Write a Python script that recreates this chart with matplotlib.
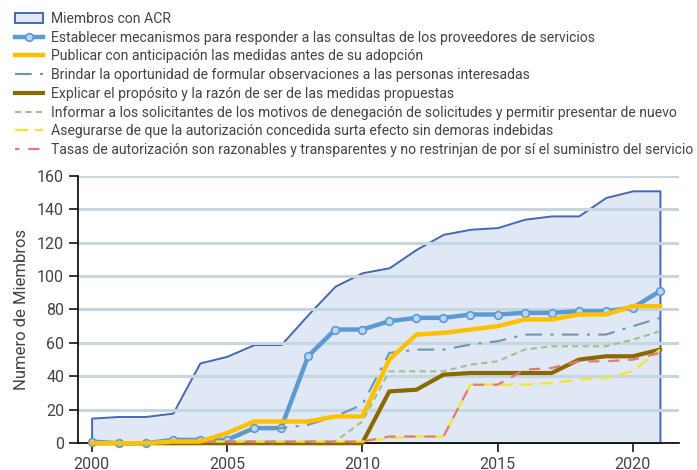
import matplotlib.pyplot as plt

years = list(range(2000, 2022))

miembros_acr = [15, 16, 16, 18, 48, 52, 59, 59, 77, 94, 102, 105, 116, 125, 128, 129, 134, 136, 136, 147, 151, 151]
establecer = [1, 0, 0, 2, 2, 2, 9, 9, 52, 68, 68, 73, 75, 75, 77, 77, 78, 78, 79, 79, 81, 91]
publicar = [0, 0, 0, 1, 1, 6, 13, 13, 13, 16, 16, 50, 65, 66, 68, 70, 74, 74, 77, 77, 82, 82]
brindar = [0, 0, 0, 1, 1, 1, 9, 9, 11, 16, 23, 54, 56, 56, 59, 61, 65, 65, 65, 65, 70, 75]
explicar = [0, 0, 0, 0, 0, 0, 0, 0, 0, 0, 0, 31, 32, 41, 42, 42, 42, 42, 50, 52, 52, 56]
informar = [0, 0, 0, 1, 1, 1, 1, 1, 1, 1, 13, 43, 43, 43, 47, 49, 56, 58, 58, 58, 62, 67]
asegurarse = [0, 0, 0, 1, 1, 1, 1, 1, 1, 1, 1, 3, 4, 4, 35, 35, 35, 36, 38, 39, 43, 56]
tasas = [0, 0, 0, 1, 1, 1, 1, 1, 1, 1, 1, 4, 4, 4, 35, 35, 44, 45, 49, 49, 50, 54]

labels = [
    "Miembros con ACR",
    "Establecer mecanismos para responder a las consultas de los proveedores de servicios",
    "Publicar con anticipación las medidas antes de su adopción",
    "Brindar la oportunidad de formular observaciones a las personas interesadas",
    "Explicar el propósito y la razón de ser de las medidas propuestas",
    "Informar a los solicitantes de los motivos de denegación de solicitudes y permitir presentar de nuevo",
    "Asegurarse de que la autorización concedida surta efecto sin demoras indebidas",
    "Tasas de autorización son razonables y transparentes y no restrinjan de por sí el suministro del servicio",
]

plt.rcParams['font.family'] = ['Roboto', 'DejaVu Sans']

fig = plt.figure(figsize=(6.97, 4.70), dpi=100)
ax = fig.add_axes([0.112, 0.057, 0.862, 0.569])

ax.fill_between(years, miembros_acr, color="#e1e8f5", edgecolor="#4668b5", linewidth=1.4,
                label=labels[0], zorder=1)
ax.plot(years, establecer, color="#5b9bd5", linewidth=3.2, marker="o", markersize=5.5,
        markerfacecolor="#bcd6ee", markeredgecolor="#5b9bd5", markeredgewidth=1.2,
        label=labels[1], zorder=3, clip_on=False)
ax.plot(years, publicar, color="#ffc000", linewidth=3.2, label=labels[2], zorder=4, clip_on=False)
ax.plot(years, brindar, color="#6e97aa", linewidth=1.5, linestyle=(0, (8, 4, 1.5, 4)),
        label=labels[3], zorder=3, clip_on=False)
ax.plot(years, explicar, color="#8a6a00", linewidth=3.0, label=labels[4], zorder=3, clip_on=False)
ax.plot(years, informar, color="#a3c08a", linewidth=1.5, linestyle=(0, (3, 2)),
        label=labels[5], zorder=3, clip_on=False)
ax.plot(years, asegurarse, color="#f5e52a", linewidth=1.6, linestyle=(0, (6, 3)),
        label=labels[6], zorder=3, clip_on=False)
ax.plot(years, tasas, color="#e07a76", linewidth=1.6, linestyle=(3, (5, 4)),
        label=labels[7], zorder=3, clip_on=False)

ax.set_xlim(1999.5, 2021.7)
ax.set_ylim(0, 160)
ax.set_xticks([2000, 2005, 2010, 2015, 2020])
ax.set_yticks(range(0, 161, 20))
ax.set_axisbelow('line')
ax.yaxis.grid(True, color="#c6d6e0", linewidth=2.2)
ax.spines['top'].set_visible(False)
ax.spines['right'].set_visible(False)
ax.spines['left'].set_linewidth(1.2)
ax.spines['bottom'].set_linewidth(1.2)
ax.tick_params(axis='both', labelsize=11.5, length=6.5, width=1.1, pad=3.5, labelcolor="#444444")
ax.set_ylabel("Numero de Miembros", fontsize=12, color="#444444", labelpad=6)

fig.legend(loc="upper left", bbox_to_anchor=(0.022, 0.975), frameon=False, fontsize=10.1,
           labelspacing=0.34, handlelength=1.95, handletextpad=0.6, borderaxespad=0, borderpad=0,
           numpoints=1, labelcolor="#444444")

fig.savefig("out.png")
